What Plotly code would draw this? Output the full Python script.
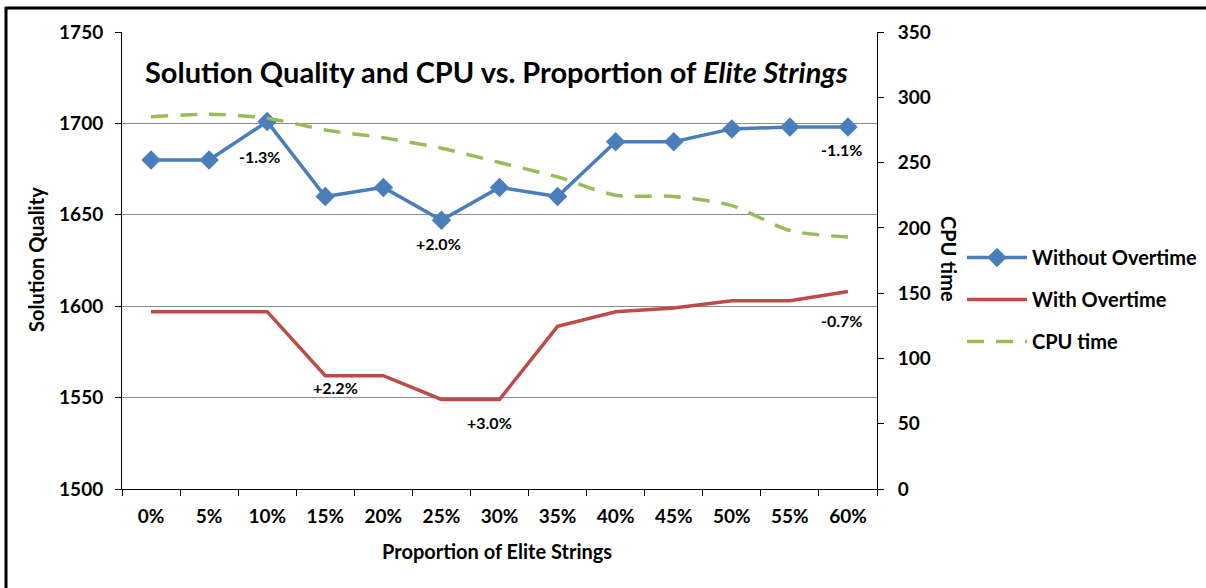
import plotly.graph_objects as go

categories = ["0%", "5%", "10%", "15%", "20%", "25%", "30%", "35%", "40%", "45%", "50%", "55%", "60%"]
without_overtime = [1680, 1680, 1701, 1660, 1665, 1647, 1665, 1660, 1690, 1690, 1697, 1698, 1698]
with_overtime = [1597, 1597, 1597, 1562, 1562, 1549, 1549, 1589, 1597, 1599, 1603, 1603, 1608]
cpu_time = [285, 287, 284, 275, 269, 261, 250, 239, 225, 224, 217, 198, 193]

# (series, category index, text, xshift, yshift)
labels = [
    ("without", 2, "-1.3%", -8, -35),
    ("without", 5, "+2.0%", -3, -23),
    ("without", 12, "-1.1%", -6, -22),
    ("with", 3, "+2.2%", 10, -12),
    ("with", 6, "+3.0%", -10, -23),
    ("with", 12, "-0.7%", -6, -29),
]

FONT = "Lato"
BLUE = "#4A7EBB"
RED = "#BE4B48"
GREEN = "#9BBB59"

fig = go.Figure()
fig.add_trace(go.Scatter(
    x=categories, y=without_overtime, name="Without Overtime", mode="lines+markers",
    line=dict(color=BLUE, width=3.5), marker=dict(symbol="diamond", size=15, color=BLUE),
    legendgroup="a"))
fig.add_trace(go.Scatter(
    x=categories, y=with_overtime, name="With Overtime", mode="lines",
    line=dict(color=RED, width=3.5), legendgroup="b"))
fig.add_trace(go.Scatter(
    x=categories, y=cpu_time, name="CPU time", mode="lines", yaxis="y2",
    line=dict(color=GREEN, width=3.5, dash="17px,12px", shape="spline", smoothing=0.8),
    legendgroup="c"))

annotations = []
for series, idx, text, xs, ys in labels:
    yv = without_overtime[idx] if series == "without" else with_overtime[idx]
    annotations.append(dict(x=categories[idx], y=yv, xref="x", yref="y", text=text,
                            showarrow=False, xshift=xs, yshift=ys,
                            font=dict(family=FONT, size=16, color="black", weight="bold")))

L, R, T, B = 122, 877, 32, 489
W, H = 1206, 588
def px(xp):
    return (xp - L) / (R - L)
def py(yp):
    return (B - yp) / (B - T)

annotations += [
    dict(x=px(496), y=py(71), xref="paper", yref="paper", showarrow=False,
         text="Solution Quality and CPU vs. Proportion of <i>Elite Strings</i>",
         font=dict(family=FONT, size=29, color="black", weight="bold"),
         xanchor="center", yanchor="middle"),
    dict(x=px(36), y=py(260), xref="paper", yref="paper", showarrow=False,
         text="Solution Quality", textangle=-90,
         font=dict(family=FONT, size=20, color="black", weight="bold"),
         xanchor="center", yanchor="middle"),
    dict(x=px(949), y=py(259), xref="paper", yref="paper", showarrow=False,
         text="CPU time", textangle=90,
         font=dict(family=FONT, size=20, color="black", weight="bold"),
         xanchor="center", yanchor="middle"),
    dict(x=px(497), y=py(551), xref="paper", yref="paper", showarrow=False,
         text="Proportion of Elite Strings",
         font=dict(family=FONT, size=20, color="black", weight="bold"),
         xanchor="center", yanchor="middle"),
]

shapes = [
    dict(type="line", xref="paper", yref="paper", x0=px(5), x1=px(W), y0=py(8), y1=py(8),
         line=dict(color="black", width=3)),
    dict(type="line", xref="paper", yref="paper", x0=px(6), x1=px(6), y0=py(7), y1=py(H + 2),
         line=dict(color="black", width=3)),
]

tickfont = dict(family=FONT, size=19, color="black", weight="bold")
fig.update_layout(
    width=W, height=H,
    margin=dict(l=L, r=W - R, t=T, b=H - B, autoexpand=False),
    paper_bgcolor="white", plot_bgcolor="white",
    showlegend=True,
    legend=dict(x=px(962), y=py(238), xanchor="left", yanchor="top", tracegroupgap=13,
                font=dict(family=FONT, size=20, color="black", weight="bold"),
                bgcolor="rgba(0,0,0,0)", itemwidth=60),
    xaxis=dict(type="category", range=[-0.5, 12.5], showline=True, linecolor="black",
               linewidth=1, ticks="outside", ticklen=6, tickcolor="black",
               tickson="boundaries", tickfont=tickfont, showgrid=False, zeroline=False,
               ticklabelstandoff=10),
    yaxis=dict(range=[1500, 1750], dtick=50, showline=True, linecolor="black", linewidth=1,
               ticks="outside", ticklen=6, tickcolor="black", showgrid=True,
               gridcolor="#8C8C8C", gridwidth=1, zeroline=False, tickfont=tickfont,
               ticklabelstandoff=8),
    yaxis2=dict(range=[0, 350], dtick=50, overlaying="y", side="right", showline=True,
                linecolor="black", linewidth=1, ticks="outside", ticklen=6,
                tickcolor="black", showgrid=False, zeroline=False, tickfont=tickfont,
                ticklabelstandoff=10),
    annotations=annotations,
    shapes=shapes,
)

fig.write_html("out.html", config={"displayModeBar": False},
               post_script="document.body.style.margin='0';document.body.style.overflow='hidden';")
